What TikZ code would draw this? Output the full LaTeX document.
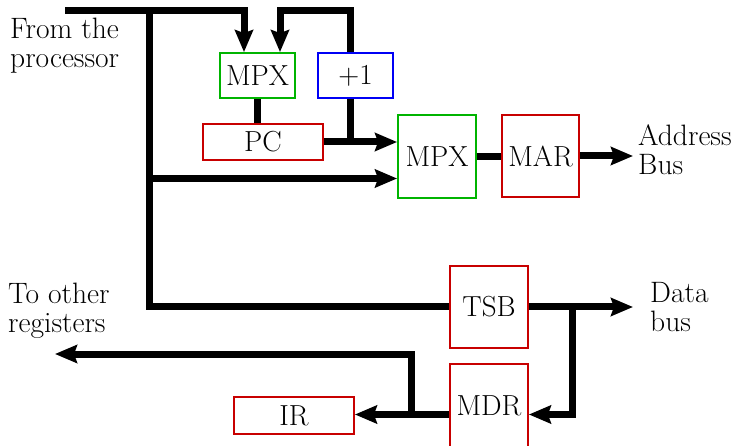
\documentclass[tikz,border=0pt]{standalone}
\usepackage{fontspec}
\usetikzlibrary{arrows.meta}
\definecolor{mpxgreen}{RGB}{0,180,0}
\definecolor{regred}{RGB}{200,0,0}
\definecolor{incblue}{RGB}{0,0,245}

\begin{document}
\begin{tikzpicture}[x=1pt, y=-1pt,
	every node/.style={font=\fontsize{29.5}{29}\selectfont, inner sep=0pt},
	box/.style={draw=#1, text=black, line width=1.8pt, font=\fontsize{29}{30}\selectfont},
	bus/.style={line width=7pt},
	>={Stealth[length=22pt,width=18pt,inset=3pt]}]
	\useasboundingbox (0,0) rectangle (747,446);
	% boxes
	\node[box=mpxgreen, minimum width=75pt, minimum height=45pt] (mpxa) at (257.5,75.5) {MPX};
	\node[box=incblue, minimum width=75pt, minimum height=45pt] (inc) at (355.5,75.5) {+1};
	\node[box=regred, minimum width=120pt, minimum height=36pt] (pc) at (263,142) {PC};
	\node[box=mpxgreen, minimum width=78pt, minimum height=83pt] (mpxb) at (437,156.5) {MPX};
	\node[box=regred, minimum width=77pt, minimum height=82pt] (mar) at (540.5,156) {MAR};
	\node[box=regred, minimum width=78pt, minimum height=82pt] (tsb) at (489,307) {TSB};
	\node[box=regred, minimum width=78pt, minimum height=84pt] (mdr) at (489,406) {MDR};
	\node[box=regred, minimum width=120pt, minimum height=37pt] (ir) at (294,415.5) {IR};
	% labels
	\node[anchor=north west, align=left] (from) at (10,17.5) {From the\\processor};
	\node[anchor=north west, align=left] (addr) at (638,124.5) {Address\\Bus};
	\node[anchor=north west, align=left] (other) at (8,282.5) {To other\\registers};
	\node[anchor=north west, align=left] (data) at (650,282) {Data\\bus};
	% bus end points and junctions
	\coordinate (proc) at (65,10.5);
	\coordinate (bustop) at (149,10.5);
	\coordinate (busin) at (149,178.5);
	\coordinate (loop) at (350,10.5);
	\coordinate (abus) at (633,156);
	\coordinate (dbus) at (633,307);
	\coordinate (tap) at (572,307);
	\coordinate (split) at (411,414.5);
	\coordinate (regs) at (55,354);
	% connections
	\draw[bus, ->] (proc) -| ([xshift=-13.5pt]mpxa.north);
	\draw[bus] (bustop) |- (tsb.west);
	\draw[bus, ->] (busin) -- (busin -| mpxb.west);
	\draw[bus, ->] (loop |- inc.north) -- (loop) -| ([xshift=22.5pt]mpxa.north);
	\draw[bus] (mpxa.south) -- (mpxa.south |- pc.north);
	\draw[bus] (loop |- inc.south) -- (loop |- pc.east);
	\draw[bus, ->] (pc.east) -- (pc.east -| mpxb.west);
	\draw[bus] (mpxb.east) -- (mpxb.east -| mar.west);
	\draw[bus, ->] (mar.east) -- (abus);
	\draw[bus, ->] (tsb.east) -- (dbus);
	\draw[bus, ->] (tap) |- ([yshift=-8.5pt]mdr.east);
	\draw[bus, ->] ([yshift=-8.5pt]mdr.west) -- (ir.east |- split);
	\draw[bus, ->] (split) |- (regs);
\end{tikzpicture}
\end{document}
